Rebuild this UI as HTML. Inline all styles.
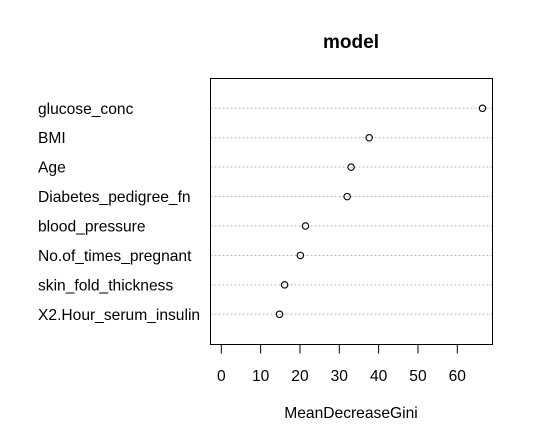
<!DOCTYPE html>
<html><head><meta charset="utf-8"><style>
body{margin:0;background:#fff;}
svg{display:block;font-family:"Liberation Sans",Arial,sans-serif;}
</style></head><body>
<svg id="chart" width="533" height="442" viewBox="0 0 533 442"></svg>
<script>
const categories=["glucose_conc","BMI","Age","Diabetes_pedigree_fn","blood_pressure","No.of_times_pregnant","skin_fold_thickness","X2.Hour_serum_insulin"];
const values=[66.4,37.6,33.0,32.0,21.4,20.1,16.1,14.8];
const ticks=[0,10,20,30,40,50,60];
const NS="http://www.w3.org/2000/svg";
const svg=document.getElementById('chart');
const L=210.5,R=492.5,T=78.5,B=344.5;
const x=v=>221.3+v*(236/60);
const y=i=>108.3+i*(206/7);
function el(t,a,txt){const e=document.createElementNS(NS,t);for(const k in a)e.setAttribute(k,a[k]);if(txt!==undefined)e.textContent=txt;svg.appendChild(e);return e;}
let e;
e=el('text',{x:351,y:48,'text-anchor':'middle','font-size':19,'font-weight':'bold'},'model');


categories.forEach((c,i)=>{
 const g=el('line',{x1:L,x2:R,y1:y(i),y2:y(i),stroke:'#bbb','stroke-dasharray':'2,2','stroke-width':1});
 
 
 const t=el('text',{x:38,y:y(i)+5.5,'font-size':15.6},c);
 
 
 const p=el('circle',{cx:x(values[i]),cy:y(i),r:3.2,fill:'none',stroke:'#000','stroke-width':1.1});
 
 
});
e=el('rect',{x:L,y:T,width:R-L,height:B-T,fill:'none',stroke:'#000','stroke-width':1});


e=el('line',{x1:x(0),x2:x(60),y1:B,y2:B,stroke:'#000'});
ticks.forEach(v=>{
 const l=el('line',{x1:x(v),x2:x(v),y1:B,y2:B+9,stroke:'#000'});
 
 
 const t=el('text',{x:x(v),y:381,'text-anchor':'middle','font-size':15.6},String(v));
 
 
});
e=el('text',{x:351,y:418,'text-anchor':'middle','font-size':15.6},'MeanDecreaseGini');


</script>
</body></html>
